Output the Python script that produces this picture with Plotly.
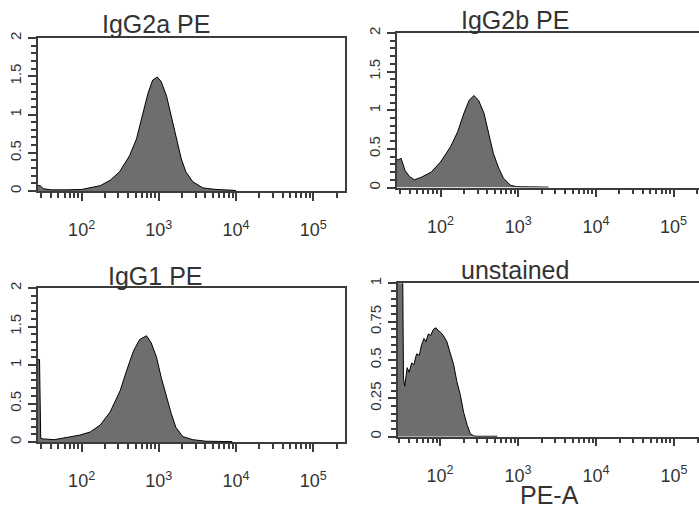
import plotly.graph_objects as go

W, H = 699, 510

# ---- data (PE-A intensity, normalized count) ----
igg2a_x = [27, 29, 32, 40, 63, 100, 174, 234, 309, 417, 513, 631, 724, 832, 955,
           1072, 1259, 1445, 1698, 1950, 2239, 2754, 3715, 5495, 9120, 10000]
igg2a_y = [0.07, 0.07, 0.03, 0.015, 0.015, 0.02, 0.07, 0.14, 0.25, 0.46, 0.68, 1.02, 1.28, 1.45, 1.49,
           1.43, 1.24, 0.98, 0.68, 0.42, 0.25, 0.12, 0.04, 0.02, 0.01, 0.005]

igg2b_x = [27.5, 29, 31, 35, 40, 46, 56, 76, 100, 135, 166, 200, 234, 269, 309,
           363, 417, 479, 562, 646, 794, 955, 2455]
igg2b_y = [0.36, 0.36, 0.38, 0.22, 0.14, 0.10, 0.13, 0.20, 0.33, 0.53, 0.72, 0.96, 1.13, 1.19, 1.13,
           0.96, 0.70, 0.44, 0.25, 0.12, 0.03, 0.01, 0.005]

igg1_x = [27.2, 28.5, 29.5, 32, 44, 65, 95, 129, 174, 234, 316, 380, 468, 562, 692,
          794, 933, 1072, 1259, 1445, 1660, 2042, 2754, 4074, 8913]
igg1_y = [1.07, 1.07, 0.05, 0.04, 0.03, 0.06, 0.09, 0.13, 0.22, 0.39, 0.67, 0.92, 1.18, 1.33, 1.38,
          1.29, 1.10, 0.84, 0.58, 0.37, 0.19, 0.07, 0.03, 0.01, 0.005]

unst_x = [28.4, 32.9, 33.9, 35.2, 37.8, 40.1, 43.1, 46.1, 49.9, 54.1, 57.9, 62.1, 65.9, 70.6, 75.7,
          82.0, 88.7, 95.1, 102, 110, 122, 135, 149, 164, 182, 200, 221, 244, 270, 298, 541]
unst_y = [1.3, 1.3, 0.38, 0.33, 0.45, 0.42, 0.48, 0.47, 0.54, 0.53, 0.60, 0.64, 0.62, 0.67, 0.66,
          0.70, 0.71, 0.69, 0.68, 0.66, 0.62, 0.55, 0.47, 0.36, 0.27, 0.16, 0.08, 0.02, 0.005, 0.003, 0.003]

titles = ["IgG2a PE", "IgG2b PE", "IgG1 PE", "unstained"]
x_title = "PE-A"

decades = [100, 1000, 10000, 100000]
decade_text = ["10<sup>2</sup>", "10<sup>3</sup>", "10<sup>4</sup>", "10<sup>5</sup>"]
minor_vals = [m * 10 ** e for e in range(1, 6) for m in range(2, 10)]

y_ticks_a = [0, 0.5, 1, 1.5, 2]
y_text_a = ["0", "0.5", "1", "1.5", "2"]
y_ticks_b = [0, 0.25, 0.5, 0.75, 1]
y_text_b = ["0", "0.25", "0.5", "0.75", "1"]

# ---- layout in pixels ----
panels = [
    dict(x0=38, x1=345, yt=38, yb=191, xr=[1.435, 5.41], yr=[0, 2], box=True),
    dict(x0=397, x1=699, yt=33, yb=187.5, xr=[1.44, 5.327], yr=[0, 2], box=False),
    dict(x0=38, x1=345, yt=288, yb=442, xr=[1.435, 5.41], yr=[0, 2], box=True),
    dict(x0=398, x1=699, yt=283.3, yb=436.7, xr=[1.46, 5.32], yr=[0, 1], box=False),
]
series = [(igg2a_x, igg2a_y), (igg2b_x, igg2b_y), (igg1_x, igg1_y), (unst_x, unst_y)]

FONT = "Liberation Sans, Arial, sans-serif"
TXT = "#333333"
LINE = "#3c3c3c"
FILL = "#6e6e6e"

fig = go.Figure()
layout = dict(width=W, height=H, margin=dict(l=0, r=0, t=0, b=0, autoexpand=False),
              paper_bgcolor="white", plot_bgcolor="white", showlegend=False,
              font=dict(family=FONT, color=TXT))

for i, (p, (xs, ys)) in enumerate(zip(panels, series)):
    n = "" if i == 0 else str(i + 1)
    fig.add_trace(go.Scatter(x=xs, y=ys, mode="lines", fill="tozeroy",
                             fillcolor=FILL, line=dict(color="black", width=1),
                             xaxis="x" + n, yaxis="y" + n, hoverinfo="skip"))
    if p["yr"][1] == 2:
        yt, ytx, ymin = y_ticks_a, y_text_a, 0.1
    else:
        yt, ytx, ymin = y_ticks_b, y_text_b, 0.05
    layout["xaxis" + n] = dict(
        type="log", range=p["xr"], domain=[p["x0"] / W, p["x1"] / W],
        anchor="y" + n, showgrid=False, zeroline=False, automargin=False,
        showline=True, linecolor=LINE, linewidth=1.5, mirror=True,
        ticks="outside", ticklen=8, tickwidth=1.5, tickcolor=LINE,
        tickvals=decades, ticktext=decade_text,
        tickfont=dict(size=18, color=TXT), ticklabelstandoff=14,
        minor=dict(tickvals=minor_vals, ticks="outside", ticklen=5,
                   tickwidth=1.5, tickcolor=LINE, showgrid=False),
    )
    layout["yaxis" + n] = dict(
        range=p["yr"], domain=[1 - p["yb"] / H, 1 - p["yt"] / H],
        anchor="x" + n, showgrid=False, zeroline=False, automargin=False,
        showline=True, linecolor=LINE, linewidth=1.5, mirror=p["box"],
        ticks="outside", ticklen=8, tickwidth=1.5, tickcolor=LINE,
        tickvals=yt, ticktext=ytx, tickangle=-90,
        tickfont=dict(size=15, color=TXT), ticklabelstandoff=1,
        minor=dict(dtick=ymin, ticks="outside", ticklen=5,
                   tickwidth=1.5, tickcolor=LINE, showgrid=False),
    )

title_pos = [(156, 24), (515, 20), (155, 276), (515, 270)]
ann = []
for t, (px, py) in zip(titles, title_pos):
    ann.append(dict(text=t, x=px / W, y=1 - py / H, xref="paper", yref="paper",
                    xanchor="center", yanchor="middle", showarrow=False,
                    font=dict(size=25, family=FONT, color=TXT)))
ann.append(dict(text=x_title, x=549 / W, y=1 - 495 / H, xref="paper", yref="paper",
                xanchor="center", yanchor="middle", showarrow=False,
                font=dict(size=25, family=FONT, color=TXT)))
layout["annotations"] = ann

fig.update_layout(**layout)
fig.write_html("out.html", config={"displayModeBar": False},
               post_script="document.body.style.margin='0';document.body.style.overflow='hidden';")
